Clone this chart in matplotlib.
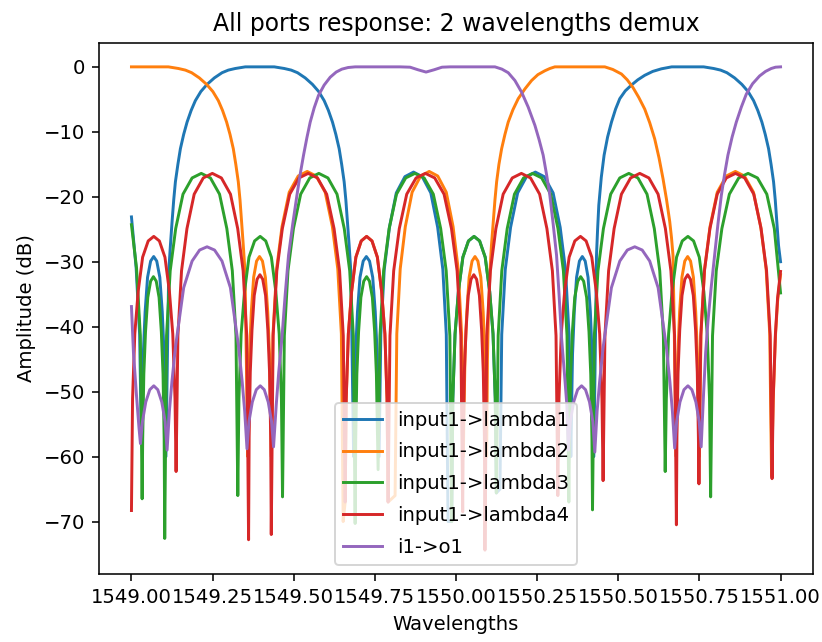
import matplotlib
matplotlib.use("Agg")
import matplotlib.pyplot as plt

title = "All ports response: 2 wavelengths demux"
labels = ["input1->lambda1", "input1->lambda2", "input1->lambda3", "input1->lambda4", "i1->o1"]

# lobe amplitude profiles (dB), one per lobe height
BIG164 = [-41.4, -31.4, -24.9, -19.6, -17.1, -16.4, -17.1, -19.6, -24.9, -31.4, -41.4]
BIG162 = [-41.2, -31.2, -24.7, -19.4, -16.9, -16.2, -16.9, -19.4, -24.7, -31.2, -41.2]
BIG161 = [-41.1, -31.1, -24.6, -19.3, -16.8, -16.1, -16.8, -19.3, -24.6, -31.1, -41.1]
WIDE = [-51.1, -41.1, -34.6, -29.3, -26.8, -26.1, -26.8, -29.3, -34.6, -41.1, -51.1]
NAR292 = [-54.2, -44.2, -37.7, -32.4, -29.9, -29.2, -29.9, -32.4, -37.7, -44.2, -54.2]
NAR320 = [-57.0, -47.0, -40.5, -35.2, -32.7, -32.0, -32.7, -35.2, -40.5, -47.0, -57.0]
NAR323 = [-57.3, -47.3, -40.8, -35.5, -33.0, -32.3, -33.0, -35.5, -40.8, -47.3, -57.3]
PS = [-54.6, -51.6, -49.7, -49.1, -49.7, -51.6, -54.6]
PB = [-53.0, -48.5, -43.2, -34.0, -29.9, -28.2, -27.7, -28.2, -29.9, -34.0, -43.2, -48.5, -53.0]

blue_wl = [
    1549.0000, 1549.0145, 1549.0252, 1549.0308,
    1549.0327, 1549.0365, 1549.0421, 1549.0496, 1549.0591, 1549.0685, 1549.0779, 1549.0874, 1549.0949, 1549.1005, 1549.1043, 1549.1062,
    1549.1123, 1549.1148, 1549.1200, 1549.1252, 1549.1302, 1549.1354, 1549.1431, 1549.1508, 1549.1609, 1549.1714,
    1549.1840, 1549.1969, 1549.2138, 1549.2329, 1549.2554, 1549.2791, 1549.2985, 1549.3200, 1549.3508,
    1549.4400, 1549.4708, 1549.4923, 1549.5117, 1549.5354, 1549.5578, 1549.5769, 1549.5938, 1549.6068, 1549.6194,
    1549.6298, 1549.6400, 1549.6477, 1549.6554, 1549.6606, 1549.6655, 1549.6708, 1549.6760, 1549.6785, 1549.6846,
    1549.6866, 1549.6905, 1549.6964, 1549.7042, 1549.7140, 1549.7238, 1549.7336, 1549.7434, 1549.7512, 1549.7571, 1549.7610, 1549.7631,
    1549.7683, 1549.7789, 1549.7949, 1549.8161, 1549.8426, 1549.8692, 1549.8958, 1549.9223, 1549.9435, 1549.9595, 1549.9701, 1549.9754,
    1549.9868, 1549.9902, 1549.9971, 1550.0074, 1550.0212, 1550.0384, 1550.0556, 1550.0728, 1550.0900, 1550.1038,
    1550.1141, 1550.1210, 1550.1243, 1550.1354,
    1550.1409, 1550.1518, 1550.1682, 1550.1900, 1550.2173, 1550.2446, 1550.2719, 1550.2992, 1550.3210, 1550.3374, 1550.3483, 1550.3538,
    1550.3556, 1550.3591, 1550.3644, 1550.3715, 1550.3803, 1550.3892, 1550.3981, 1550.4069, 1550.4140, 1550.4193, 1550.4228, 1550.4246,
    1550.4308, 1550.4329, 1550.4363, 1550.4400, 1550.4477, 1550.4563, 1550.4671, 1550.4791, 1550.4917, 1550.5046,
    1550.5215, 1550.5406, 1550.5600, 1550.5815, 1550.6062, 1550.6329, 1550.6646,
    1550.7631, 1550.7938, 1550.8154, 1550.8348, 1550.8585, 1550.8809, 1550.9000, 1550.9169, 1550.9298, 1550.9425,
    1550.9529, 1550.9631, 1550.9708, 1550.9785, 1550.9837, 1550.9886, 1550.9938, 1551.0000]
blue_db = ([-23.1, -31.0, -41.2, -58.0] + NAR292 + [-60.0]
           + [-40.0, -31.5, -27.5, -23.8, -20.5, -17.7, -15.0, -12.6, -10.4, -8.5,
              -6.7, -5.2, -3.8, -2.7, -1.7, -0.9, -0.5, -0.25, 0.0]
           + [0.0, -0.25, -0.5, -0.9, -1.7, -2.7, -3.8, -5.2, -6.7, -8.5,
              -10.4, -12.6, -15.0, -17.7, -20.5, -23.8, -27.5, -31.5, -40.0, -60.0]
           + NAR292 + [-60.0] + BIG162 + [-70.0]
           + [-70.0] + WIDE + [-65.6, -65.0]
           + BIG162 + [-60.0] + NAR292 + [-60.0]
           + [-38.0, -29.0, -25.0, -21.3, -17.0, -13.6, -10.8, -8.5, -6.5, -4.9,
              -3.7, -2.8, -2.0, -1.3, -0.7, -0.3, 0.0]
           + [0.0, -0.25, -0.5, -0.9, -1.7, -2.7, -3.8, -5.2, -6.7, -8.5,
              -10.4, -12.6, -15.0, -17.7, -20.5, -23.8, -27.5, -30.0])

orange_wl = [
    1549.0000, 1549.1138, 1549.1446, 1549.1662, 1549.1855, 1549.2092, 1549.2317, 1549.2508, 1549.2677, 1549.2806,
    1549.2932, 1549.3037, 1549.3138, 1549.3215, 1549.3292, 1549.3345, 1549.3394, 1549.3446, 1549.3498, 1549.3523, 1549.3585,
    1549.3602, 1549.3638, 1549.3693, 1549.3765, 1549.3855, 1549.3946, 1549.4037, 1549.4127, 1549.4199, 1549.4254, 1549.4290, 1549.4308,
    1549.4362, 1549.4473, 1549.4639, 1549.4861, 1549.5138, 1549.5415, 1549.5692, 1549.5969, 1549.6191, 1549.6357, 1549.6468, 1549.6523,
    1549.6585, 1549.6617, 1549.6683, 1549.6783, 1549.6915, 1549.7080, 1549.7246, 1549.7412, 1549.7577, 1549.7709,
    1549.7809, 1549.7875, 1549.7908, 1549.8123,
    1549.8176, 1549.8281, 1549.8438, 1549.8648, 1549.8911, 1549.9174, 1549.9437, 1549.9700, 1549.9910, 1550.0067, 1550.0172, 1550.0225,
    1550.0243, 1550.0279, 1550.0333, 1550.0405, 1550.0495, 1550.0585, 1550.0675, 1550.0765, 1550.0837, 1550.0891, 1550.0927, 1550.0945,
    1550.0969, 1550.0994, 1550.1046, 1550.1092, 1550.1148, 1550.1200, 1550.1252, 1550.1323, 1550.1406, 1550.1508,
    1550.1609, 1550.1754, 1550.1917, 1550.2123, 1550.2329, 1550.2523, 1550.2738, 1550.2892, 1550.3046,
    1550.4585, 1550.4831, 1550.5098, 1550.5277, 1550.5455, 1550.5631, 1550.5815, 1550.5969, 1550.6123, 1550.6255,
    1550.6378, 1550.6486, 1550.6585, 1550.6640, 1550.6686, 1550.6723, 1550.6785,
    1550.6802, 1550.6837, 1550.6890, 1550.6961, 1550.7049, 1550.7138, 1550.7227, 1550.7315, 1550.7386, 1550.7439, 1550.7474, 1550.7492,
    1550.7549, 1550.7660, 1550.7827, 1550.8050, 1550.8329, 1550.8608, 1550.8887, 1550.9166, 1550.9389, 1550.9556, 1550.9667, 1550.9723,
    1550.9773, 1550.9842, 1550.9910, 1551.0000]
orange_db = ([0.0, 0.0, -0.25, -0.5, -0.9, -1.7, -2.7, -3.8, -5.2, -6.7,
              -8.5, -10.4, -12.6, -15.0, -17.7, -20.5, -23.8, -27.5, -31.5, -40.0, -60.0]
             + NAR292 + [-60.0] + BIG161 + [-70.0]
             + [-67.0] + WIDE + [-67.0, -66.0]
             + BIG161 + [-60.0] + NAR292 + [-60.0]
             + [-45.0, -39.0, -31.5, -27.5, -23.8, -20.5, -17.7, -15.0, -12.6, -10.4,
                -8.5, -6.6, -4.9, -3.4, -2.1, -1.2, -0.6, -0.25, 0.0]
             + [0.0, -0.4, -1.1, -2.0, -3.2, -4.7, -6.5, -8.6, -11.1, -14.0,
                -17.2, -20.4, -23.8, -26.3, -29.0, -40.0, -60.0]
             + NAR292 + [-60.0] + BIG161 + [-63.0] + [-51.5, -41.5, -36.0, -32.0])

green_wl = [
    1549.0000, 1549.0157, 1549.0274, 1549.0329,
    1549.0346, 1549.0381, 1549.0433, 1549.0503, 1549.0590, 1549.0677, 1549.0764, 1549.0851, 1549.0921, 1549.0973, 1549.1008, 1549.1025,
    1549.1081, 1549.1194, 1549.1363, 1549.1588, 1549.1869, 1549.2151, 1549.2433, 1549.2714, 1549.2939, 1549.3108, 1549.3221, 1549.3277,
    1549.3311, 1549.3380, 1549.3484, 1549.3621, 1549.3794, 1549.3966, 1549.4138, 1549.4311, 1549.4448, 1549.4552, 1549.4621, 1549.4655,
    1549.4711, 1549.4823, 1549.4991, 1549.5214, 1549.5494, 1549.5774, 1549.6054, 1549.6334, 1549.6557, 1549.6725, 1549.6837, 1549.6892,
    1549.6910, 1549.6945, 1549.6998, 1549.7069, 1549.7157, 1549.7246, 1549.7335, 1549.7423, 1549.7494, 1549.7547, 1549.7582, 1549.7600,
    1549.7657, 1549.7770, 1549.7940, 1549.8167, 1549.8450, 1549.8734, 1549.9018, 1549.9301, 1549.9528, 1549.9698, 1549.9811, 1549.9868,
    1549.9902, 1549.9971, 1550.0074, 1550.0212, 1550.0384, 1550.0556, 1550.0728, 1550.0900, 1550.1038, 1550.1141, 1550.1210, 1550.1243,
    1550.1299, 1550.1411, 1550.1578, 1550.1801, 1550.2081, 1550.2360, 1550.2639, 1550.2919, 1550.3142, 1550.3309, 1550.3421, 1550.3477,
    1550.3495, 1550.3532, 1550.3586, 1550.3659, 1550.3751, 1550.3842, 1550.3933, 1550.4025, 1550.4098, 1550.4152, 1550.4189, 1550.4206,
    1550.4262, 1550.4374, 1550.4542, 1550.4766, 1550.5046, 1550.5326, 1550.5606, 1550.5886, 1550.6110, 1550.6278, 1550.6390, 1550.6446,
    1550.6481, 1550.6551, 1550.6656, 1550.6796, 1550.6971, 1550.7146, 1550.7321, 1550.7496, 1550.7636, 1550.7741, 1550.7811, 1550.7846,
    1550.7904, 1550.8019, 1550.8192, 1550.8423, 1550.8711, 1550.9000, 1550.9289, 1550.9577, 1550.9808, 1551.0000]
green_db = ([-24.3, -31.0, -41.4, -66.5]
            + NAR323 + [-72.6] + BIG164 + [-66.0] + WIDE + [-66.2]
            + BIG164 + [-70.3] + NAR323 + [-62.0] + BIG164 + [-70.0]
            + WIDE + [-65.6] + BIG164 + [-67.0] + NAR323 + [-68.2]
            + BIG164 + [-62.3] + WIDE + [-66.2]
            + [-41.4, -31.4, -24.9, -19.6, -17.1, -16.4, -17.1, -19.6, -24.9, -34.8])

red_wl = [
    1549.0000,
    1549.0034, 1549.0103, 1549.0206, 1549.0344, 1549.0516, 1549.0688, 1549.0860, 1549.1032, 1549.1170, 1549.1273, 1549.1342, 1549.1375,
    1549.1431, 1549.1543, 1549.1710, 1549.1933, 1549.2213, 1549.2492, 1549.2771, 1549.3051, 1549.3274, 1549.3441, 1549.3553, 1549.3609,
    1549.3626, 1549.3661, 1549.3714, 1549.3783, 1549.3871, 1549.3958, 1549.4045, 1549.4133, 1549.4202, 1549.4255, 1549.4290, 1549.4308,
    1549.4365, 1549.4479, 1549.4649, 1549.4877, 1549.5161, 1549.5446, 1549.5731, 1549.6015, 1549.6243, 1549.6413, 1549.6527, 1549.6585,
    1549.6617, 1549.6683, 1549.6783, 1549.6915, 1549.7080, 1549.7246, 1549.7412, 1549.7577, 1549.7709, 1549.7809, 1549.7875, 1549.7908,
    1549.7965, 1549.8080, 1549.8253, 1549.8482, 1549.8770, 1549.9057, 1549.9344, 1549.9632, 1549.9861, 1550.0034, 1550.0149, 1550.0206,
    1550.0223, 1550.0257, 1550.0309, 1550.0377, 1550.0463, 1550.0549, 1550.0635, 1550.0721, 1550.0789, 1550.0841, 1550.0875, 1550.0892,
    1550.0948, 1550.1060, 1550.1229, 1550.1453, 1550.1734, 1550.2015, 1550.2296, 1550.2577, 1550.2801, 1550.2970, 1550.3082, 1550.3138,
    1550.3173, 1550.3243, 1550.3347, 1550.3486, 1550.3661, 1550.3835, 1550.4009, 1550.4184, 1550.4323, 1550.4427, 1550.4497, 1550.4532,
    1550.4589, 1550.4702, 1550.4872, 1550.5097, 1550.5380, 1550.5662, 1550.5944, 1550.6227, 1550.6452, 1550.6622, 1550.6735, 1550.6791,
    1550.6807, 1550.6842, 1550.6894, 1550.6964, 1550.7051, 1550.7138, 1550.7225, 1550.7312, 1550.7382, 1550.7434, 1550.7469, 1550.7486,
    1550.7542, 1550.7655, 1550.7824, 1550.8049, 1550.8330, 1550.8612, 1550.8894, 1550.9175, 1550.9400, 1550.9569, 1550.9682, 1550.9738,
    1550.9773, 1550.9842, 1550.9910, 1551.0000]
red_db = ([-68.3]
          + WIDE + [-62.3] + BIG164 + [-72.8] + NAR320 + [-72.0]
          + BIG164 + [-67.0] + WIDE + [-67.0] + BIG164 + [-68.5]
          + NAR320 + [-74.4] + BIG164 + [-66.0] + WIDE + [-63.7]
          + BIG164 + [-70.5] + NAR320 + [-64.2] + BIG164 + [-63.4]
          + [-51.1, -41.1, -35.5, -31.5])

purple_wl = [
    1549.0000, 1549.0062, 1549.0154, 1549.0231, 1549.0277,
    1549.0339, 1549.0441, 1549.0565, 1549.0688, 1549.0811, 1549.0935, 1549.1037, 1549.1098,
    1549.1169, 1549.1246, 1549.1354, 1549.1609, 1549.1868, 1549.2100, 1549.2329, 1549.2560, 1549.2790, 1549.3049,
    1549.3304, 1549.3412, 1549.3489, 1549.3560,
    1549.3621, 1549.3724, 1549.3846, 1549.3969, 1549.4092, 1549.4214, 1549.4317, 1549.4378,
    1549.4462, 1549.4538, 1549.4637, 1549.4738, 1549.4840, 1549.4969, 1549.5098, 1549.5200, 1549.5302, 1549.5406,
    1549.5508, 1549.5631, 1549.5763, 1549.5938, 1549.6123, 1549.6308, 1549.6483, 1549.6677, 1549.6892,
    1549.8277, 1549.8585, 1549.8831, 1549.9077, 1549.9323, 1549.9569, 1549.9815, 1550.1200,
    1550.1415, 1550.1609, 1550.1815, 1550.2022, 1550.2225, 1550.2431, 1550.2560, 1550.2686, 1550.2791, 1550.2892,
    1550.2994, 1550.3098, 1550.3175, 1550.3252, 1550.3338, 1550.3415, 1550.3462,
    1550.3522, 1550.3624, 1550.3747, 1550.3869, 1550.3991, 1550.4114, 1550.4216, 1550.4277,
    1550.4348, 1550.4425, 1550.4533, 1550.4788, 1550.5047, 1550.5279, 1550.5508, 1550.5737, 1550.5969, 1550.6228,
    1550.6483, 1550.6591, 1550.6668, 1550.6738,
    1550.6799, 1550.6901, 1550.7024, 1550.7146, 1550.7268, 1550.7391, 1550.7493, 1550.7554,
    1550.7631, 1550.7692, 1550.7763, 1550.7862, 1550.7969, 1550.8071, 1550.8175, 1550.8277, 1550.8378, 1550.8508,
    1550.8637, 1550.8791, 1550.8945, 1550.9138, 1550.9354, 1550.9538, 1550.9714, 1550.9846, 1551.0000]
purple_db = ([-36.9, -44.0, -50.5, -55.5, -58.0]
             + PS + [-59.0] + PB + [-58.8] + PS + [-58.5]
             + [-52.0, -47.0, -41.7, -35.0, -29.0, -24.2, -19.8, -16.5, -13.6, -10.9,
                -8.5, -6.3, -4.4, -2.8, -1.6, -0.8, -0.35, -0.1, 0.0]
             + [0.0, -0.05, -0.45, -0.8, -0.45, -0.05, 0.0, 0.0]
             + [-0.35, -0.9, -2.1, -3.9, -6.2, -9.0, -11.2, -13.6, -16.6, -19.8,
                -24.2, -29.0, -35.0, -41.7, -47.0, -52.0, -59.0]
             + PS + [-59.3] + PB + [-58.7] + PS + [-58.5]
             + [-50.0, -44.0, -39.2, -34.0, -29.0, -24.2, -19.8, -16.5, -13.6, -10.8,
                -8.5, -6.2, -4.2, -2.6, -1.4, -0.7, -0.25, -0.05, 0.0])

DPI = 141
fig = plt.figure(figsize=(822 / DPI, 642 / DPI), dpi=DPI)
ax = fig.add_axes([99 / 822, (642 - 574.3) / 642, (813 - 99) / 822, (574.3 - 42.7) / 642])

series = [(blue_wl, blue_db), (orange_wl, orange_db), (green_wl, green_db),
          (red_wl, red_db), (purple_wl, purple_db)]
for (wl, db), lab in zip(series, labels):
    ax.plot(wl, db, label=lab)

ax.ticklabel_format(axis="x", useOffset=False)
ax.set_title(title)
ax.set_xlabel("Wavelengths")
ax.set_ylabel("Amplitude (dB)")
ax.legend(loc="lower center", labelspacing=0.65)
fig.savefig("out.png", dpi=DPI)
